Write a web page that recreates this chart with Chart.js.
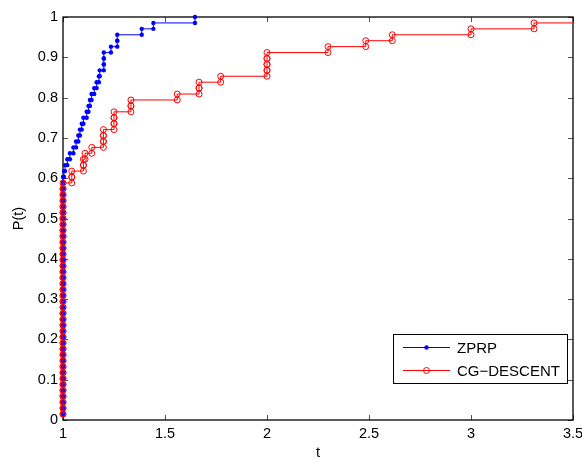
<!DOCTYPE html>
<html>
<head>
<meta charset="utf-8">
<title>Performance profile</title>
<script src="https://cdn.jsdelivr.net/npm/chart.js@4.4.0/dist/chart.umd.min.js"></script>
<style>
  html, body { margin: 0; padding: 0; background: #fff; }
  canvas { display: block; }
</style>
</head>
<body>
<canvas id="profileChart" width="582" height="459"></canvas>
<script>
const NUM_PROBLEMS = 68;

// sorted performance ratios, one per test problem
const zprpRatios = [
  1, 1, 1, 1, 1, 1, 1, 1, 1, 1, 1, 1, 1, 1, 1, 1, 1, 1, 1, 1,
  1, 1, 1, 1, 1, 1, 1, 1, 1, 1, 1, 1, 1, 1, 1, 1, 1, 1, 1, 1,
  1, 1.005, 1.010, 1.021, 1.034, 1.051, 1.064, 1.075, 1.083, 1.092,
  1.100, 1.116, 1.125, 1.132, 1.140, 1.153, 1.165, 1.176, 1.180, 1.200,
  1.200, 1.200, 1.235, 1.266, 1.266, 1.386, 1.443, 1.647
];
const cgDescentRatios = [
  1, 1, 1, 1, 1, 1, 1, 1, 1, 1, 1, 1, 1, 1, 1, 1, 1, 1, 1, 1,
  1, 1, 1, 1, 1, 1, 1, 1, 1, 1, 1, 1, 1, 1, 1, 1, 1, 1, 1, 1,
  1.043, 1.043, 1.100, 1.100, 1.108, 1.141, 1.198, 1.198, 1.198, 1.250,
  1.250, 1.250, 1.333, 1.333, 1.560, 1.667, 1.667, 1.773, 2.000, 2.000,
  2.000, 2.000, 2.299, 2.484, 2.614, 3.000, 3.309, 7.000  // last one failed
];

const solverNames = ['ZPRP', 'CG\u2212DESCENT'];
const xTicks = [1, 1.5, 2, 2.5, 3, 3.5];
const yTicks = [0, 0.1, 0.2, 0.3, 0.4, 0.5, 0.6, 0.7, 0.8, 0.9, 1];

const FONT = 'Liberation Sans, Arial, Helvetica, sans-serif';

// vertices of a stairs plot, like MATLAB stairs(r, (1:n)/n)
function stairPoints(ratios) {
  const pts = [{ x: ratios[0], y: 1 / NUM_PROBLEMS }];
  for (let i = 1; i < ratios.length; i++) {
    pts.push({ x: ratios[i], y: i / NUM_PROBLEMS });
    pts.push({ x: ratios[i], y: (i + 1) / NUM_PROBLEMS });
  }
  return pts;
}

function drawMarker(ctx, ds, x, y) {
  ctx.beginPath();
  ctx.arc(x, y, ds.pointRadius, 0, Math.PI * 2);
  if (ds.pointBorderWidth > 0) {
    ctx.lineWidth = ds.pointBorderWidth;
    ctx.strokeStyle = ds.pointBorderColor;
    ctx.stroke();
  } else {
    ctx.fillStyle = ds.pointBackgroundColor;
    ctx.fill();
  }
}

// box frame with inward ticks on all four sides
const framePlugin = {
  id: 'frame',
  beforeDatasetsDraw(chart) {
    const { ctx, chartArea: a, scales } = chart;
    ctx.save();
    ctx.strokeStyle = '#555';
    ctx.lineWidth = 1;
    const tl = 5;
    xTicks.forEach(v => {
      const px = Math.round(scales.x.getPixelForValue(v)) + 0.5;
      ctx.beginPath();
      ctx.moveTo(px, a.bottom); ctx.lineTo(px, a.bottom - tl);
      ctx.moveTo(px, a.top); ctx.lineTo(px, a.top + tl);
      ctx.stroke();
    });
    yTicks.forEach(v => {
      const py = Math.round(scales.y.getPixelForValue(v)) + 0.5;
      ctx.beginPath();
      ctx.moveTo(a.left, py); ctx.lineTo(a.left + tl, py);
      ctx.moveTo(a.right, py); ctx.lineTo(a.right - tl, py);
      ctx.stroke();
    });
    ctx.strokeStyle = '#000';
    ctx.lineWidth = 1.3;
    ctx.strokeRect(a.left, a.top, a.right - a.left, a.bottom - a.top);

    // axis titles
    ctx.fillStyle = '#000';
    ctx.font = '14.5px ' + FONT;
    ctx.textAlign = 'center';
    ctx.textBaseline = 'alphabetic';
    ctx.fillText('t', (a.left + a.right) / 2, 457);
    ctx.translate(23, (a.top + a.bottom) / 2);
    ctx.rotate(-Math.PI / 2);
    ctx.fillText('P(t)', 0, 0);
    ctx.restore();
  },
  afterDatasetsDraw(chart) {
    const { ctx } = chart;
    const box = { x: 393, y: 334, w: 174, h: 49 };
    ctx.save();
    ctx.fillStyle = '#fff';
    ctx.fillRect(box.x, box.y, box.w, box.h);
    ctx.strokeStyle = '#000';
    ctx.lineWidth = 1;
    ctx.strokeRect(box.x + 0.5, box.y + 0.5, box.w, box.h);
    ctx.font = '15px ' + FONT;
    ctx.textBaseline = 'middle';
    ctx.textAlign = 'left';
    chart.data.datasets.forEach((ds, i) => {
      const y = Math.round(box.y + 13 + i * 22.5) + 0.5;
      ctx.strokeStyle = ds.borderColor;
      ctx.lineWidth = 1;
      ctx.beginPath();
      ctx.moveTo(403, y); ctx.lineTo(450, y);
      ctx.stroke();
      drawMarker(ctx, ds, 426.5, y);
      ctx.fillStyle = '#000';
      ctx.fillText(ds.label, 457, y + 1);
    });
    ctx.restore();
  }
};

new Chart(document.getElementById('profileChart'), {
  type: 'line',
  data: {
    datasets: [
      {
        label: solverNames[0],
        data: stairPoints(zprpRatios),
        borderColor: '#0000ff',
        borderWidth: 1,
        pointRadius: 2.2,
        pointBorderWidth: 0,
        pointBackgroundColor: '#0000ff',
        pointBorderColor: '#0000ff',
        order: 1,
        clip: { left: 6, top: 6, right: 0, bottom: 6 }
      },
      {
        label: solverNames[1],
        data: stairPoints(cgDescentRatios),
        borderColor: '#ff0000',
        borderWidth: 1,
        pointRadius: 3,
        pointBorderWidth: 1,
        pointBackgroundColor: 'rgba(0,0,0,0)',
        pointBorderColor: '#ff0000',
        order: 0,
        clip: { left: 6, top: 6, right: 0, bottom: 6 }
      }
    ]
  },
  options: {
    responsive: false,
    animation: false,
    layout: { padding: { top: 17, right: 9, left: 0, bottom: 0 } },
    elements: { line: { tension: 0 } },
    plugins: { legend: { display: false }, tooltip: { enabled: false } },
    scales: {
      x: {
        type: 'linear',
        min: 1,
        max: 3.5,
        grid: { display: false, drawTicks: false },
        border: { display: false },
        afterBuildTicks: s => { s.ticks = xTicks.map(v => ({ value: v })); },
        afterFit: s => { s.height = 39; s.paddingLeft = 0; s.paddingRight = 0; },
        ticks: {
          color: '#000', padding: 5, maxRotation: 0, autoSkip: false,
          font: { family: FONT, size: 14.5 },
          callback: v => String(v)
        }
      },
      y: {
        type: 'linear',
        min: 0,
        max: 1,
        grid: { display: false, drawTicks: false },
        border: { display: false },
        afterBuildTicks: s => { s.ticks = yTicks.map(v => ({ value: v })); },
        afterFit: s => { s.width = 63; s.paddingTop = 0; s.paddingBottom = 0; },
        ticks: {
          color: '#000', padding: 5, autoSkip: false,
          font: { family: FONT, size: 14.5 },
          callback: v => String(v)
        }
      }
    }
  },
  plugins: [framePlugin]
});
</script>
</body>
</html>
